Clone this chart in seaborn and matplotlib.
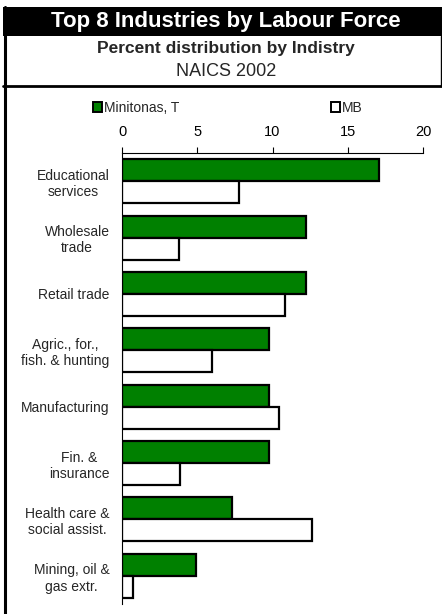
import pandas as pd
import seaborn as sns
import matplotlib.pyplot as plt
import numpy as np
from matplotlib.patches import Rectangle
from matplotlib.lines import Line2D

# 数据
industries = ["Educational\nservices", "Wholesale\ntrade", "Retail trade",
              "Agric., for.,\nfish. & hunting", "Manufacturing", "Fin. &\ninsurance",
              "Health care &\nsocial assist.", "Mining, oil &\ngas extr."]
minitonas = [17.1, 12.2, 12.2, 9.8, 9.8, 9.8, 7.3, 4.9]
mb = [7.8, 3.8, 10.8, 6.0, 10.4, 3.85, 12.6, 0.7]
series_names = ["Minitonas, T", "MB"]

df = pd.DataFrame({
    "industry": industries * 2,
    "value": minitonas + mb,
    "area": [series_names[0]] * len(industries) + [series_names[1]] * len(industries),
})

sns.set_style("white")
plt.rcParams['font.family'] = ['Liberation Sans', 'DejaVu Sans']

W, H = 442, 614
fig = plt.figure(figsize=(W / 100, H / 100), dpi=100)
ax = fig.add_axes([122 / W, 1 - 604 / H, (423 - 122) / W, (604 - 153) / H])

sns.barplot(data=df, y="industry", x="value", hue="area", orient="h",
            palette=["#008000", "white"], saturation=1, edgecolor="black", linewidth=1.6,
            width=0.78, ax=ax, legend=False)

ax.set_xlim(0, 20)
ax.set_ylim(len(industries) - 0.5, -0.5)
ax.set_xlabel("")
ax.set_ylabel("")

# x 轴在上方
ax.xaxis.tick_top()
ax.set_xticks([0, 5, 10, 15, 20])
ax.tick_params(axis="x", direction="out", length=4, width=0.8, labelsize=10.5, pad=6, colors="black")

# y 轴刻度在类别之间，标签在中间
ax.set_yticks(np.arange(-0.5, len(industries), 1))
ax.set_yticklabels([])
ax.set_yticks(np.arange(len(industries)), minor=True)
ax.set_yticklabels(industries, minor=True, fontsize=10, multialignment="center")
ax.tick_params(axis="y", which="major", direction="out", length=4, width=0.8)
ax.tick_params(axis="y", which="minor", length=0, pad=9)

for s in ["right", "bottom"]:
    ax.spines[s].set_visible(False)
for s in ["top", "left"]:
    ax.spines[s].set_color("black")
    ax.spines[s].set_linewidth(0.8)

# 图例
handles = [Rectangle((0, 0), 1, 1, facecolor="#008000", edgecolor="black", linewidth=1.4),
           Rectangle((0, 0), 1, 1, facecolor="white", edgecolor="black", linewidth=1.4)]
fig.legend(handles, series_names, loc="center", bbox_to_anchor=(228 / W, 1 - 108 / H),
           ncol=2, frameon=False, fontsize=10, handlelength=0.65, handleheight=0.65,
           handletextpad=0.15, columnspacing=10.9, borderpad=0)

# 标题区域和边框
cx = 226 / W
fig.patches.append(Rectangle((3 / W, 1 - 36 / H), 1 - 3 / W, 29 / H,
                             transform=fig.transFigure, facecolor="black", edgecolor="none"))
fig.text(cx, 1 - 21 / H, "Top 8 Industries by Labour Force", color="white",
         fontsize=16, fontweight="bold", ha="center", va="center")
fig.text(cx, 1 - 48 / H, "Percent distribution by Indistry", fontsize=12.5,
         fontweight="bold", ha="center", va="center")
fig.text(cx, 1 - 72 / H, "NAICS 2002", fontsize=13, ha="center", va="center")
fig.lines.append(Line2D([4.5 / W, 4.5 / W], [0, 1 - 7 / H], transform=fig.transFigure,
                        color="black", linewidth=2.2))
fig.lines.append(Line2D([3 / W, 1], [1 - 86 / H, 1 - 86 / H], transform=fig.transFigure,
                        color="black", linewidth=2))
fig.lines.append(Line2D([440.5 / W, 440.5 / W], [1 - 86 / H, 1 - 36 / H], transform=fig.transFigure,
                        color="black", linewidth=1))

plt.savefig("out.png", dpi=100)
